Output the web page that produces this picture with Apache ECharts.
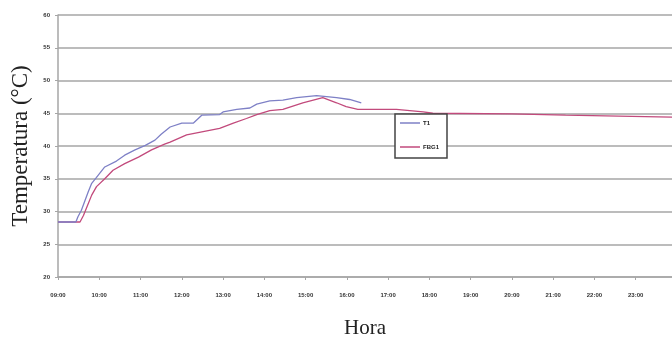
<!DOCTYPE html>
<html>
<head>
<meta charset="utf-8">
<script src="https://cdn.jsdelivr.net/npm/echarts@6/dist/echarts.min.js"></script>
<style>
  html, body { margin: 0; padding: 0; background: #fff; }
  #chart { width: 672px; height: 338px; }
</style>
</head>
<body>
<div id="chart"></div>
<script>
// Hour ticks shown along the time axis
const hourTicks = ['09:00','10:00','11:00','12:00','13:00','14:00','15:00','16:00',
                   '17:00','18:00','19:00','20:00','21:00','22:00','23:00'];

// Thermocouple T1: reading times and temperatures (°C)
const t1Times = ['09:00','09:26','09:29','09:34','09:44','09:49','09:56','10:08','10:25',
                 '10:37','10:52','11:07','11:21','11:30','11:43','12:00','12:17','12:24',
                 '12:29','12:55','13:00','13:20','13:39','13:49','14:08','14:27','14:47',
                 '15:16','15:45','16:04','16:21'];
const t1Values = [28.4, 28.4, 29.2, 30.2, 33.0, 34.3, 35.2, 36.8, 37.7,
                  38.6, 39.4, 40.1, 40.9, 41.8, 42.9, 43.5, 43.5, 44.2,
                  44.7, 44.8, 45.2, 45.6, 45.8, 46.4, 46.9, 47.0, 47.4,
                  47.7, 47.4, 47.1, 46.6];

// Fibre Bragg grating sensor FBG1: reading times and temperatures (°C)
const fbgTimes = ['09:00','09:32','09:37','09:42','09:49','09:56','10:08','10:20','10:37',
                  '10:57','11:16','11:35','11:43','12:07','12:31','12:55','13:15','13:34',
                  '13:49','14:08','14:27','14:56','15:25','15:45','15:59','16:16','17:12',
                  '17:51','18:05','20:00','21:18','22:16','22:18','23:53'];
const fbgValues = [28.4, 28.4, 29.4, 30.7, 32.5, 33.8, 35.0, 36.3, 37.3,
                   38.3, 39.4, 40.3, 40.6, 41.7, 42.2, 42.7, 43.5, 44.2,
                   44.8, 45.4, 45.6, 46.6, 47.4, 46.6, 46.0, 45.6, 45.6,
                   45.2, 45.0, 44.9, 44.7, 44.6, 44.4, 44.4];

function toHours(s) {
  const [h, m] = s.split(':').map(Number);
  return h + m / 60;
}
function pairs(times, values) {
  return times.map((t, i) => [toHours(t), values[i]]);
}
const tickHours = hourTicks.map(toHours);

const chart = echarts.init(document.getElementById('chart'), null, { renderer: 'canvas' });

const labelFont = { fontFamily: 'Liberation Sans', fontSize: 6, color: '#333', fontWeight: 'bold' };

chart.setOption({
  animation: false,
  backgroundColor: '#fff',
  grid: { left: 58, right: 0, top: 15, bottom: 61, containLabel: false, outerBoundsMode: 'none' },
  legend: {
    orient: 'vertical',
    left: 395,
    top: 114,
    backgroundColor: '#fff',
    borderColor: '#444',
    borderWidth: 1.5,
    borderRadius: 0,
    padding: [6, 8, 8, 5],
    itemGap: 18,
    itemWidth: 20,
    itemHeight: 1.5,
    icon: 'rect',
    textStyle: { fontFamily: 'Liberation Sans', fontSize: 6, color: '#222', fontWeight: 'bold', padding: [0, 0, 0, -2] },
    data: ['T1', 'FBG1']
  },
  xAxis: {
    type: 'value',
    min: 9,
    max: 23.88,
    interval: 1,
    name: 'Hora',
    nameLocation: 'middle',
    nameGap: 41,
    nameTextStyle: { fontFamily: 'Liberation Serif', fontSize: 21, color: '#222' },
    axisLine: { lineStyle: { color: '#a6a6a6', width: 1.5 } },
    axisTick: { show: true, length: 3, lineStyle: { color: '#a6a6a6' }, customValues: tickHours },
    splitLine: { show: false },
    axisLabel: Object.assign({
      margin: 15,
      customValues: tickHours,
      formatter: v => {
        const h = Math.round(v);
        return (h < 10 ? '0' : '') + h + ':00';
      }
    }, labelFont)
  },
  yAxis: {
    type: 'value',
    min: 20,
    max: 60,
    interval: 5,
    name: 'Temperatura (°C)',
    nameLocation: 'middle',
    nameGap: 26,
    nameTextStyle: { fontFamily: 'Liberation Serif', fontSize: 23, color: '#222' },
    axisLine: { show: true, lineStyle: { color: '#a6a6a6', width: 1.5 } },
    axisTick: { show: true, length: 3, lineStyle: { color: '#a6a6a6' } },
    splitLine: { show: true, lineStyle: { color: '#a6a6a6', width: 1.5 } },
    axisLabel: Object.assign({ margin: 8 }, labelFont)
  },
  series: [
    {
      name: 'T1',
      type: 'line',
      symbol: 'none',
      data: pairs(t1Times, t1Values),
      lineStyle: { color: '#7e80c6', width: 1.3 },
      itemStyle: { color: '#7e80c6' },
      z: 3
    },
    {
      name: 'FBG1',
      type: 'line',
      symbol: 'none',
      data: pairs(fbgTimes, fbgValues),
      lineStyle: { color: '#c24a7c', width: 1.3 },
      itemStyle: { color: '#c24a7c' },
      z: 2
    }
  ]
});
</script>
</body>
</html>
